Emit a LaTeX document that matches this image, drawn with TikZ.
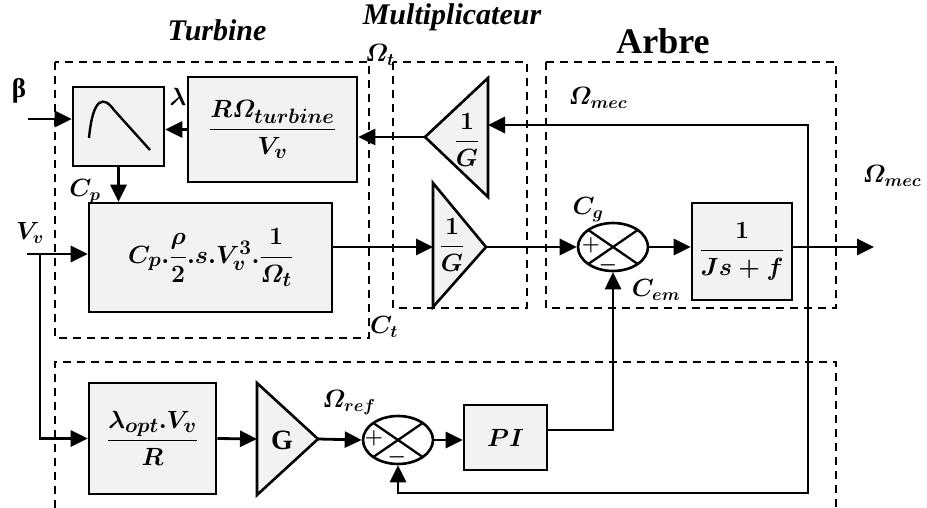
\documentclass[tikz,border=0pt]{standalone}
\usepackage{amsmath}
\usepackage[no-math]{fontspec}
\setmainfont{Liberation Serif}
\usetikzlibrary{arrows.meta,shapes.geometric,calc}
\definecolor{boxgray}{HTML}{F2F2F2}
\begin{document}
\begin{tikzpicture}[x=1pt,y=-1pt,
  blk/.style={draw, line width=2.6pt, fill=boxgray, inner sep=0pt},
  conn/.style={line width=2.8pt},
  arr/.style={conn, -{Triangle[length=17pt,width=16pt]}},
  dsh/.style={line width=2.3pt, dash pattern=on 8pt off 6pt},
  mf/.style={font=\fontsize{30}{34}\selectfont\boldmath, inner sep=0pt},
  lbl/.style={font=\fontsize{27}{31}\selectfont\boldmath, inner sep=0pt},
  ttl/.style={font=\fontsize{30}{34}\selectfont\bfseries\itshape, inner sep=0pt},
  sgn/.style={font=\fontsize{22}{24}\selectfont\boldmath, inner sep=0pt},
  sumj/.style={draw, ellipse, line width=2.6pt, minimum width=70pt, minimum height=48pt, inner sep=0pt}]
\useasboundingbox (0,0) rectangle (927,508);

% dashed group boxes
\draw[dsh] (55,62) rectangle (369,338);
\draw[dsh] (393,62) rectangle (527,308);
\draw[dsh] (546,62) rectangle (836,308);
\draw[dsh] (55,508) -- (55,362) -- (836,362) -- (836,508);

% titles
\node[ttl] (tTurb) at (217,30) {Turbine};
\node[ttl] (tMult) at (452,17) {Multiplicateur};
\node[font=\fontsize{36}{40}\selectfont\bfseries, inner sep=0pt] (tArbre) at (663,41) {Arbre};

% blocks
\node[blk, minimum width=91pt, minimum height=79pt] (cp) at (118.5,126.5) {};
\draw[line width=2.4pt] (89,138) .. controls (93,96) and (104,96) .. (114,110) -- (150,150);
\node[blk, mf, minimum width=169pt, minimum height=105pt] (rw) at (272.5,129.5) {$\dfrac{R\varOmega_{turbine}}{V_v}$};
\node[blk, mf, minimum width=243pt, minimum height=109pt] (big) at (210.5,257.5) {$C_p.\dfrac{\rho}{2}.s.V_v^3.\dfrac{1}{\varOmega_t}$};
\node[blk, mf, minimum width=100pt, minimum height=97pt] (js) at (742,251.5) {$\dfrac{1}{Js+f}$};
\node[blk, mf, minimum width=127pt, minimum height=111pt] (lo) at (152.5,438.5) {$\dfrac{\lambda_{opt}.V_v}{R}$};
\node[blk, mf, minimum width=83pt, minimum height=65pt] (pi) at (505.5,437.5) {$PI$};

% triangles
\coordinate (fbA) at (488,78);
\coordinate (fbB) at (488,197);
\coordinate (fbT) at (425,137);
\draw[blk] (fbA) -- (fbB) -- (fbT) -- cycle;
\node[lbl] (fbG) at (467,140) {$\dfrac{1}{G}$};

\coordinate (fwA) at (433,183);
\coordinate (fwB) at (433,307);
\coordinate (fwT) at (486,247);
\coordinate (fwIn) at (433,247);
\draw[blk] (fwA) -- (fwB) -- (fwT) -- cycle;
\node[lbl] (fwG) at (452,245) {$\dfrac{1}{G}$};

\coordinate (gA) at (257,383);
\coordinate (gB) at (257,495);
\coordinate (gT) at (318,439);
\coordinate (gIn) at (257,439);
\draw[blk] (gA) -- (gB) -- (gT) -- cycle;
\node[font=\fontsize{28}{32}\selectfont\bfseries, inner sep=0pt] (gG) at (282,440) {G};

% summing junctions
\node[sumj] (S1) at (613,247) {};
\draw[line width=2.3pt] ([shift={(-24.7,-17)}]S1.center) -- ([shift={(24.7,17)}]S1.center);
\draw[line width=2.3pt] ([shift={(24.7,-17)}]S1.center) -- ([shift={(-24.7,17)}]S1.center);
\node[sgn] (S1p) at (591,245) {$+$};
\node[sgn] (S1m) at (608,265) {$-$};

\node[sumj] (S2) at (398,440) {};
\draw[line width=2.3pt] ([shift={(-24.7,-17)}]S2.center) -- ([shift={(24.7,17)}]S2.center);
\draw[line width=2.3pt] ([shift={(24.7,-17)}]S2.center) -- ([shift={(-24.7,17)}]S2.center);
\node[sgn] (S2p) at (374,438) {$+$};
\node[sgn] (S2m) at (397,457) {$-$};

% connectors
\coordinate (bin) at (28,119);
\draw[arr] (bin) -- (bin -| cp.west);
\draw[arr] (rw.west) -- (rw.west -| cp.east);
\draw[arr] (cp.south) -- (cp.south |- big.north);
\coordinate (vin) at (27,254);
\coordinate (vbr) at (40,254);
\draw[arr] (vin) -- (vin -| big.west);
\draw[arr] (vbr) |- (lo.west);
\draw[arr] ([yshift=10.5pt]big.east) -- (fwIn);
\draw[arr] (fwT) -- (S1.west);
\draw[arr] (S1.east) -- (S1.east -| js.west);
\coordinate (mout) at (874,247);
\draw[arr] (S1 -| js.east) -- (mout);
\coordinate (fbx) at (808,247);
\coordinate (fbtop) at (808,125);
\draw[arr] (fbx) -- (fbtop) -- (fbtop -| fbA);
\draw[arr] (fbT) -- (fbT -| rw.east);
\coordinate (fbbot) at (808,493);
\draw[arr] (fbx) -- (fbbot) -| (S2.south);
\draw[arr] (lo.east) -- (gIn);
\draw[arr] (gT) -- (S2.west);
\draw[arr] (S2.east) -- (S2.east -| pi.west);
\coordinate (pic) at (613,430);
\draw[arr] (pi.east |- pic) -- (pic) -- (S1.south);

% signal labels
\node[font=\fontsize{27}{31}\selectfont\bfseries, inner sep=0pt] (lbeta) at (19,91) {β};
\node[lbl] (llam) at (178,97) {$\lambda$};
\node[lbl] (lcp) at (85,192) {$C_p$};
\node[lbl] (lvv) at (30,233) {$V_v$};
\node[lbl] (lot) at (380,55) {$\varOmega_t$};
\node[lbl] (lom1) at (598,98) {$\varOmega_{mec}$};
\node[lbl] (lom2) at (892,176) {$\varOmega_{mec}$};
\node[lbl] (lcg) at (588,210) {$C_g$};
\node[lbl] (lcem) at (656,290) {$C_{em}$};
\node[lbl] (lct) at (384,327) {$C_t$};
\node[lbl] (lref) at (349,403) {$\varOmega_{ref}$};
\end{tikzpicture}
\end{document}
